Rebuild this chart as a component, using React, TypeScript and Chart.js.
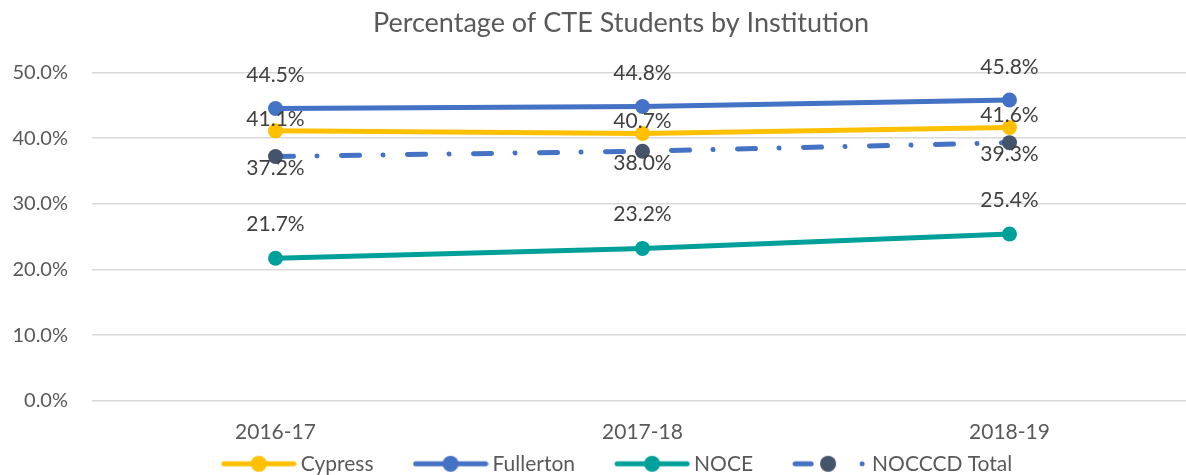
import React, { useEffect, useRef } from "react";
import { Chart, registerables } from "chart.js";

Chart.register(...registerables);

const categories = ["2016-17", "2017-18", "2018-19"];
const cypress = [41.1, 40.7, 41.6];
const fullerton = [44.5, 44.8, 45.8];
const noce = [21.7, 23.2, 25.4];
const nocccdTotal = [37.2, 38.0, 39.3];
const yTicks = [0, 10, 20, 30, 40, 50];

const FONT = "Lato";
const W = 1242;
const H = 490;

function makeLegendImage(lineColor: string, markerColor: string, dashed: boolean) {
  const c = document.createElement("canvas");
  c.width = 76;
  c.height = 20;
  const ctx = c.getContext("2d")!;
  ctx.lineWidth = 5;
  ctx.lineCap = "round";
  ctx.strokeStyle = lineColor;
  if (!dashed) {
    ctx.beginPath();
    ctx.moveTo(3, 10);
    ctx.lineTo(73, 10);
    ctx.stroke();
  } else {
    ctx.beginPath();
    ctx.moveTo(3, 10);
    ctx.lineTo(19, 10);
    ctx.stroke();
    ctx.beginPath();
    ctx.arc(70, 10, 2.5, 0, Math.PI * 2);
    ctx.fillStyle = lineColor;
    ctx.fill();
  }
  ctx.beginPath();
  ctx.arc(dashed ? 36 : 38, 10, 8, 0, Math.PI * 2);
  ctx.fillStyle = markerColor;
  ctx.fill();
  return c;
}

const dataLabelPlugin = {
  id: "dataLabels",
  afterDatasetsDraw(chart: any) {
    const ctx = chart.ctx;
    ctx.save();
    ctx.font = `21px ${FONT}`;
    ctx.fillStyle = "#404040";
    ctx.textAlign = "center";
    ctx.textBaseline = "middle";
    chart.data.datasets.forEach((ds: any, i: number) => {
      const meta = chart.getDatasetMeta(i);
      meta.data.forEach((pt: any, j: number) => {
        const v = ds.data[j] as number;
        ctx.fillText(v.toFixed(1) + "%", pt.x, pt.y + ds.labelOffset);
      });
    });
    ctx.restore();
  },
};

const customLegendPlugin = {
  id: "customLegend",
  afterDraw(chart: any) {
    const ctx = chart.ctx;
    ctx.save();
    ctx.font = `21px ${FONT}`;
    ctx.textBaseline = "middle";
    ctx.textAlign = "left";
    const items = chart.data.datasets.map((ds: any) => ({
      text: ds.label,
      img: ds.legendImage,
      w: ctx.measureText(ds.label).width,
    }));
    const boxW = 74;
    const gapText = 5;
    const gapItem = 40;
    let total = 0;
    items.forEach((it: any, i: number) => {
      total += boxW + gapText + it.w + (i < items.length - 1 ? gapItem : 0);
    });
    let x = chart.width / 2 - total / 2 - 4;
    const y = chart.chartArea.bottom + 63;
    items.forEach((it: any) => {
      ctx.drawImage(it.img, x - 1, y - 10);
      ctx.fillStyle = "#595959";
      ctx.fillText(it.text, x + boxW + gapText, y);
      x += boxW + gapText + it.w + gapItem;
    });
    ctx.restore();
  },
};

export default function App() {
  const ref = useRef<HTMLCanvasElement | null>(null);

  useEffect(() => {
    if (!ref.current) return;
    const mk = (
      label: string,
      data: number[],
      color: string,
      marker: string,
      offset: number,
      order: number,
      dashed = false
    ) => ({
      label,
      data,
      borderColor: color,
      backgroundColor: marker,
      pointBackgroundColor: marker,
      pointBorderColor: marker,
      pointRadius: 7.5,
      pointBorderWidth: 0,
      borderWidth: 5,
      borderCapStyle: "round" as const,
      borderDash: dashed ? [18, 23.5, 0.01, 24.5] : [],
      tension: 0,
      fill: false,
      order,
      clip: false as any,
      labelOffset: offset,
      legendImage: makeLegendImage(color, marker, dashed),
      yAxisID: "y",
    });

    const chart = new Chart(ref.current, {
      type: "line",
      data: {
        labels: categories,
        datasets: [
          mk("Cypress", cypress, "#FFC000", "#FFC000", -12, 3),
          mk("Fullerton", fullerton, "#4472C4", "#4472C4", -33, 2),
          mk("NOCE", noce, "#00A09A", "#00A09A", -34, 1),
          mk("NOCCCD Total", nocccdTotal, "#4472C4", "#44546A", 12, 0, true),
        ] as any,
      },
      options: {
        animation: false,
        responsive: false,
        layout: { padding: { top: 0, bottom: 26, left: 0, right: 0 } },
        plugins: {
          legend: { display: false },
          tooltip: { enabled: false },
          title: {
            display: true,
            text: "Percentage of CTE Students by Institution",
            color: "#595959",
            font: { family: FONT, size: 27, weight: "normal" },
            padding: { top: 7, bottom: 33 },
          },
        },
        scales: {
          x: {
            type: "category",
            offset: true,
            grid: { display: false, drawTicks: false },
            border: { display: false },
            ticks: {
              color: "#595959",
              font: { family: FONT, size: 21 },
              padding: 19,
            },
          },
          y: {
            type: "linear",
            position: "left",
            min: yTicks[0],
            max: yTicks[yTicks.length - 1],
            afterBuildTicks: (scale: any) => {
              scale.ticks = yTicks.map((v) => ({ value: v }));
            },
            afterFit: (scale: any) => {
              scale.width = 92;
            },
            grid: { color: "#D9D9D9", lineWidth: 1.5, drawTicks: false },
            border: { display: false },
            ticks: {
              color: "#595959",
              font: { family: FONT, size: 20 },
              padding: 24,
              callback: (v: any) => Number(v).toFixed(1) + "%",
            },
          },
          yR: {
            type: "linear",
            position: "right",
            grid: { display: false, drawTicks: false },
            border: { display: false },
            ticks: { display: false },
            afterFit: (scale: any) => {
              scale.width = 49;
            },
          },
        },
      },
      plugins: [dataLabelPlugin, customLegendPlugin],
    });
    return () => chart.destroy();
  }, []);

  return (
    <div
      style={{
        position: "absolute",
        left: 0,
        top: 0,
        width: 1186,
        height: 475,
        overflow: "hidden",
        background: "#ffffff",
      }}
    >
      <canvas ref={ref} width={W} height={H} style={{ width: W, height: H, display: "block" }} />
    </div>
  );
}
